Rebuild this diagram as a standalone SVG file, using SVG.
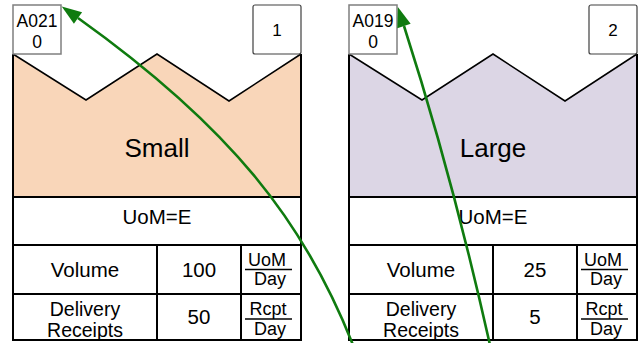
<svg xmlns="http://www.w3.org/2000/svg" width="642" height="343" viewBox="0 0 642 343">
<style>
.t{font-family:"Liberation Sans",Arial,sans-serif;fill:#000;text-anchor:middle}
.b{fill:none;stroke:#000;stroke-width:2}
.z{fill:none;stroke:#000;stroke-width:1.5;stroke-linejoin:miter}
.id{fill:#fff;stroke:#7f7f7f;stroke-width:1.5}
.num{fill:#fff;stroke:#404040;stroke-width:1.2}
.c{fill:none;stroke:#0f7b0f;stroke-width:2.6}
.m{font-size:20.5px}
.d{font-size:19.5px}
.f{font-size:18px}
.i{font-size:17.5px}
</style>
<defs>
<marker id="ah" markerUnits="userSpaceOnUse" markerWidth="22" markerHeight="16" refX="0" refY="7" orient="auto" overflow="visible">
<path d="M0,0 L20,7 L0,14 z" fill="#0f7b0f"/>
</marker>
</defs>
<rect width="642" height="343" fill="#fff"/>
<g id="node1">
<polygon points="13,54 86,100 157,54 229,101 301,54 301,197 13,197" fill="#f9d6b9"/>
<polyline class="z" points="13,54 86,100 157,54 229,101 301,54"/>
<path class="b" d="M13,54 V340 H301 V54 M13,197 H301 M13,245 H301 M13,294 H301 M157,245 V340 M241,245 V340"/>
<rect class="id" x="13" y="5" width="48" height="49"/>
<text class="t i" x="37" y="27">A021</text>
<text class="t i" x="37" y="48">0</text>
<rect class="num" x="253" y="5" width="48" height="49" rx="2"/>
<text class="t" x="277" y="36" font-size="17">1</text>
<text class="t" x="157" y="157" font-size="26">Small</text>
<text class="t m" x="157" y="224">UoM=E</text>
<text class="t m" x="85" y="277">Volume</text>
<text class="t m" x="199" y="277">100</text>
<text class="t f" x="267" y="266">UoM</text>
<line x1="245" y1="269.5" x2="292" y2="269.5" stroke="#000" stroke-width="1.5"/>
<text class="t f" x="270" y="285">Day</text>
<text class="t d" x="85" y="315.5">Delivery</text>
<text class="t d" x="85" y="337">Receipts</text>
<text class="t m" x="199" y="324">50</text>
<text class="t f" x="268" y="315">Rcpt</text>
<line x1="245" y1="319" x2="292" y2="319" stroke="#000" stroke-width="1.5"/>
<text class="t f" x="270" y="335">Day</text>
</g>
<g id="node2">
<polygon points="349,54 422,100 493,54 565,101 637,54 637,197 349,197" fill="#dcd6e5"/>
<polyline class="z" points="349,54 422,100 493,54 565,101 637,54"/>
<path class="b" d="M349,54 V340 H637 V54 M349,197 H637 M349,245 H637 M349,294 H637 M493,245 V340 M577,245 V340"/>
<rect class="id" x="349" y="5" width="48" height="49"/>
<text class="t i" x="373" y="27">A019</text>
<text class="t i" x="373" y="48">0</text>
<rect class="num" x="589" y="5" width="48" height="49" rx="2"/>
<text class="t" x="613" y="36" font-size="17">2</text>
<text class="t" x="493" y="157" font-size="26">Large</text>
<text class="t m" x="493" y="224">UoM=E</text>
<text class="t m" x="421" y="277">Volume</text>
<text class="t m" x="535" y="277">25</text>
<text class="t f" x="603" y="266">UoM</text>
<line x1="581" y1="269.5" x2="628" y2="269.5" stroke="#000" stroke-width="1.5"/>
<text class="t f" x="606" y="285">Day</text>
<text class="t d" x="421" y="315.5">Delivery</text>
<text class="t d" x="421" y="337">Receipts</text>
<text class="t m" x="535" y="324">5</text>
<text class="t f" x="604" y="315">Rcpt</text>
<line x1="581" y1="319" x2="628" y2="319" stroke="#000" stroke-width="1.5"/>
<text class="t f" x="606" y="335">Day</text>
</g>
<g id="connectors">
<path class="c" d="M353,345 C305,223 232,128 78,18" marker-end="url(#ah)"/>
<path class="c" d="M490,345 Q452,175 404,26" marker-end="url(#ah)"/>
</g>
</svg>
